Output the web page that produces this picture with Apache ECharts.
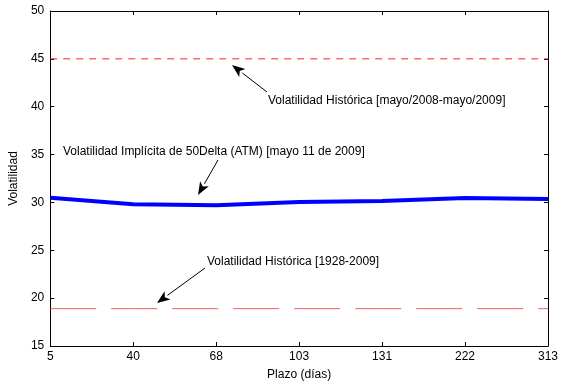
<!DOCTYPE html>
<html>
<head>
<meta charset="utf-8">
<script src="https://cdn.jsdelivr.net/npm/echarts@6/dist/echarts.min.js"></script>
<style>
  html, body { margin: 0; padding: 0; background: #fff; }
  #chart { width: 561px; height: 386px; }
</style>
</head>
<body>
<div id="chart"></div>
<script>
// data
const plazos = ['5', '40', '68', '103', '131', '222', '313'];
const implicita = [30.5, 29.8, 29.7, 30.05, 30.15, 30.45, 30.35];
const historicaReciente = 45;
const historicaLarga = 18.9;
const yTicks = { min: 15, max: 50, interval: 5 };

const font = 'Liberation Sans, Arial, sans-serif';
const chart = echarts.init(document.getElementById('chart'));

const axisCommon = {
  axisLine: { show: true, lineStyle: { color: '#000', width: 1 } },
  axisTick: { show: true, inside: true, length: 4, lineStyle: { color: '#000' } },
  splitLine: { show: false },
};

// horizontal reference line across all plazos
const refLine = (name, value, color, dash) => ({
  name,
  type: 'line',
  data: plazos.map(() => value),
  symbol: 'none',
  silent: true,
  color,
  itemStyle: { color },
  lineStyle: { color, width: 1, type: dash },
});

chart.setOption({
  animation: false,
  grid: { left: 49, right: 12, top: 11, bottom: 37 },
  xAxis: [
    {
      ...axisCommon,
      type: 'category',
      data: plazos,
      boundaryGap: false,
      name: 'Plazo (días)',
      nameLocation: 'middle',
      nameGap: 23,
      nameTextStyle: { color: '#000', fontSize: 12, fontFamily: font },
      axisLabel: { color: '#000', fontSize: 12, fontFamily: font, margin: 5 },
    },
    {
      ...axisCommon,
      type: 'category',
      data: plazos,
      boundaryGap: false,
      position: 'top',
      axisLabel: { show: false },
    },
  ],
  yAxis: [
    {
      ...axisCommon,
      type: 'value',
      min: yTicks.min,
      max: yTicks.max,
      interval: yTicks.interval,
      name: 'Volatilidad',
      nameLocation: 'middle',
      nameGap: 27,
      nameTextStyle: { color: '#000', fontSize: 12, fontFamily: font },
      axisLabel: { color: '#000', fontSize: 12, fontFamily: font, margin: 6 },
    },
    {
      ...axisCommon,
      type: 'value',
      min: yTicks.min,
      max: yTicks.max,
      interval: yTicks.interval,
      position: 'right',
      axisLabel: { show: false },
    },
  ],
  series: [
    refLine('Volatilidad Histórica reciente', historicaReciente, '#ff2020', [7, 6]),
    refLine('Volatilidad Histórica 1928-2009', historicaLarga, '#ee6060', [46, 15]),
    {
      name: 'Volatilidad Implícita',
      type: 'line',
      data: implicita,
      symbol: 'none',
      lineStyle: { color: '#0000ff', width: 4 },
      z: 5,
    },
  ],
});

// annotations (text + arrows)
function arrow(x1, y1, x2, y2) {
  const ang = Math.atan2(y2 - y1, x2 - x1);
  const len = 13, half = 5;
  const bx = x2 - len * Math.cos(ang), by = y2 - len * Math.sin(ang);
  const px = -Math.sin(ang) * half, py = Math.cos(ang) * half;
  return [
    { type: 'line', shape: { x1, y1, x2: bx, y2: by }, style: { stroke: '#000', lineWidth: 1 } },
    {
      type: 'polygon',
      shape: { points: [[x2, y2], [bx + px, by + py], [bx + (x2 - bx) * 0.25, by + (y2 - by) * 0.25], [bx - px, by - py]] },
      style: { fill: '#000' },
    },
  ];
}
function label(x, y, text) {
  return {
    type: 'text', x, y,
    style: { text, fill: '#000', font: '12px ' + font, textVerticalAlign: 'middle' },
  };
}

chart.setOption({
  graphic: [
    label(268, 101, 'Volatilidad Histórica [mayo/2008-mayo/2009]'),
    ...arrow(267, 92, 232, 65),
    label(63, 152, 'Volatilidad Implícita de 50Delta (ATM) [mayo 11 de 2009]'),
    ...arrow(218, 160, 198, 195),
    label(207, 262, 'Volatilidad Histórica [1928-2009]'),
    ...arrow(205, 268, 157, 303),
  ],
});
</script>
</body>
</html>
